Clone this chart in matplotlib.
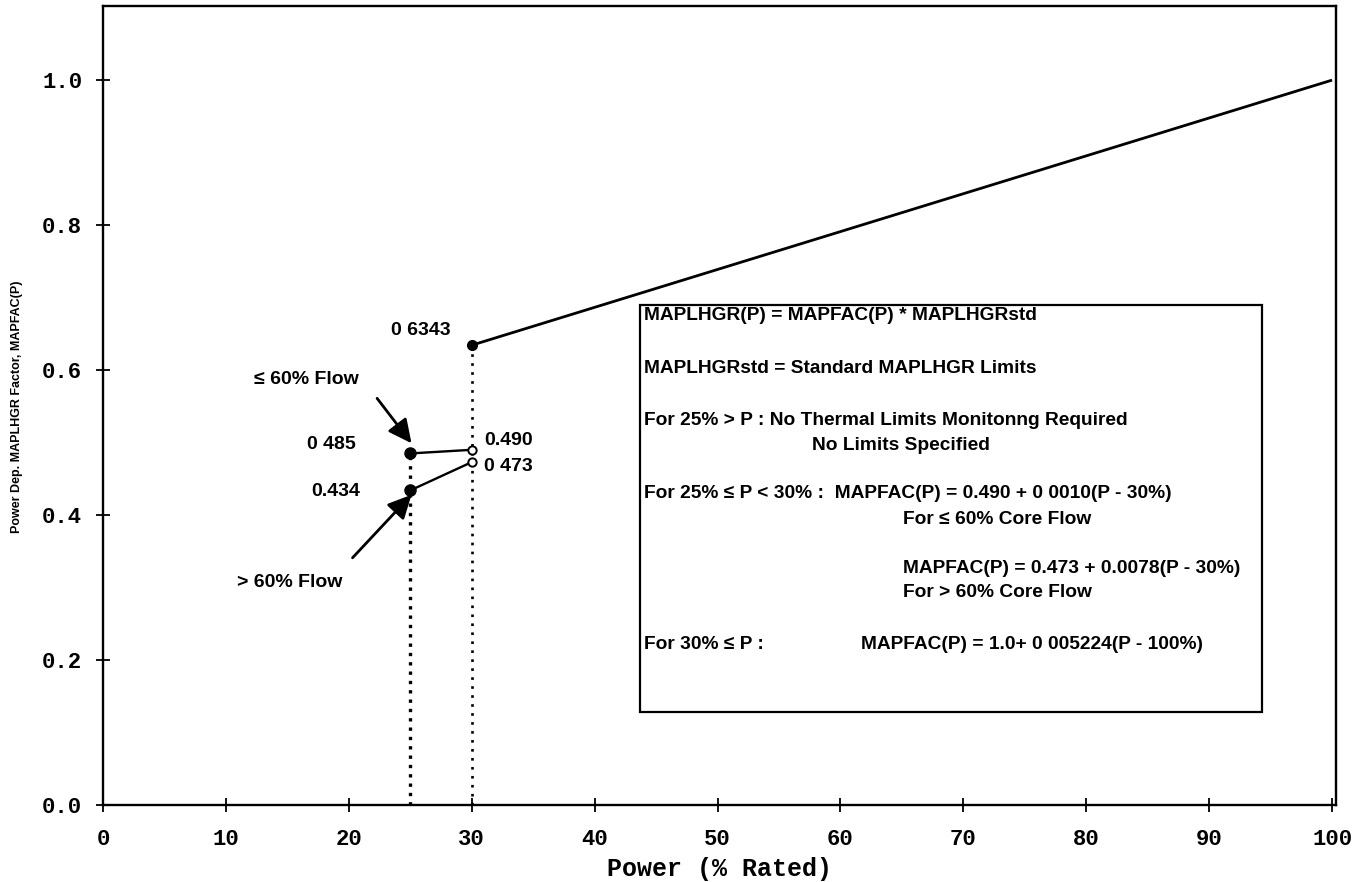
import matplotlib
matplotlib.use("Agg")
import matplotlib.pyplot as plt
from matplotlib.patches import Rectangle

# Power-dependent MAPLHGR factor data
full_power_x = [30, 100]
full_power_y = [0.6343, 1.0]

low_flow_x = [25, 30]
low_flow_y = [0.485, 0.490]      # <= 60% core flow
high_flow_x = [25, 30]
high_flow_y = [0.434, 0.473]     # > 60% core flow

x_ticks = [0, 10, 20, 30, 40, 50, 60, 70, 80, 90, 100]
y_ticks = [0.0, 0.2, 0.4, 0.6, 0.8, 1.0]
y_tick_labels = ["0.0", "0.2", "0.4", "0.6", "0.8", "1.0"]

mono = ["Liberation Mono", "DejaVu Sans Mono"]
sans = ["Liberation Sans", "DejaVu Sans"]

fig = plt.figure(figsize=(13.7, 8.82), dpi=100)
ax = fig.add_axes([0.0752, 0.0873, 0.8998, 0.9057])

ax.set_xlim(0, 100.3)
ax.set_ylim(0, 1.102)

# main curve above 30% power
ax.plot(full_power_x, full_power_y, color="black", lw=2.0, solid_capstyle="butt")
ax.plot([full_power_x[0]], [full_power_y[0]], "o", color="black", ms=7)

# dotted guides down to the axis
ax.plot([low_flow_x[0], low_flow_x[0]], [0, low_flow_y[0]], color="black",
        lw=2.4, linestyle=(0, (1, 1.8)))
ax.plot([full_power_x[0], full_power_x[0]], [0, full_power_y[0]], color="black",
        lw=1.9, linestyle=(0, (1, 2.4)))

# 25-30% segments
for xs, ys in ((low_flow_x, low_flow_y), (high_flow_x, high_flow_y)):
    ax.plot(xs, ys, color="black", lw=1.7)
    ax.plot([xs[0]], [ys[0]], "o", color="black", ms=8, zorder=4)
    ax.plot([xs[1]], [ys[1]], "o", mfc="white", mec="black", mew=1.4, ms=6, zorder=4)

# value labels
lab_kw = dict(fontsize=14, family=sans, fontweight="bold", color="black")
ax.text(28.3, full_power_y[0] + 0.0205, "0 6343", va="center", ha="right", **lab_kw)
ax.text(20.6, low_flow_y[0] + 0.0125, "0 485", va="center", ha="right", **lab_kw)
ax.text(20.9, high_flow_y[0] - 0.001, "0.434", va="center", ha="right", **lab_kw)
ax.text(31.0, low_flow_y[1] + 0.0125, "0.490", va="center", **lab_kw)
ax.text(31.0, high_flow_y[1] - 0.006, "0 473", va="center", **lab_kw)

# flow annotations with arrows
arrow = dict(arrowstyle="-|>,head_length=0.55,head_width=0.27", color="black",
             lw=2.0, mutation_scale=26, shrinkA=0, shrinkB=0)
ax.text(12.3, 0.587, "≤ 60% Flow", va="center", **lab_kw)
ax.annotate("", xy=(25.1, 0.499), xytext=(22.3, 0.561), arrowprops=arrow)
ax.text(10.9, 0.307, "> 60% Flow", va="center", **lab_kw)
ax.annotate("", xy=(25.1, 0.428), xytext=(20.3, 0.341), arrowprops=arrow)

# equations box (axes fraction coordinates)
bx0, bx1 = (640 - 103) / 1233, (1262 - 103) / 1233
by0, by1 = (805 - 712) / 799, (805 - 305) / 799
ax.add_patch(Rectangle((bx0, by0), bx1 - bx0, by1 - by0, transform=ax.transAxes,
                       fill=False, edgecolor="black", lw=1.6, zorder=3))


def px(xp, yp):
    return (xp - 103) / 1233, (805 - yp) / 799


box_lines = [
    (644, 315, "MAPLHGR(P) = MAPFAC(P) * MAPLHGRstd"),
    (644, 368, "MAPLHGRstd = Standard MAPLHGR Limits"),
    (644, 420, "For 25% > P : No Thermal Limits Monitonng Required"),
    (812, 445, "No Limits Specified"),
    (644, 493, "For 25% ≤ P < 30% :  MAPFAC(P) = 0.490 + 0 0010(P - 30%)"),
    (903, 519, "For ≤ 60% Core Flow"),
    (903, 568, "MAPFAC(P) = 0.473 + 0.0078(P - 30%)"),
    (903, 592, "For > 60% Core Flow"),
    (644, 644, "For 30% ≤ P :"),
    (861, 644, "MAPFAC(P) = 1.0+ 0 005224(P - 100%)"),
]
for xp, yp, s in box_lines:
    tx, ty = px(xp, yp)
    ax.text(tx, ty, s, transform=ax.transAxes, va="center", ha="left",
            fontsize=13.8, family=sans, fontweight="bold", color="black")

# axes styling
for sp in ax.spines.values():
    sp.set_linewidth(1.7)
ax.set_xticks(x_ticks)
ax.set_xticklabels([str(v) for v in x_ticks])
ax.set_yticks(y_ticks)
ax.set_yticklabels(y_tick_labels)
ax.tick_params(direction="inout", length=10, width=1.3)
ax.tick_params(axis="x", pad=12)
ax.tick_params(axis="y", pad=10)
for lbl in ax.get_xticklabels() + ax.get_yticklabels():
    lbl.set_fontfamily(mono)
    lbl.set_fontweight("bold")
    lbl.set_fontsize(16)

ax.set_xlabel("Power (% Rated)", family=mono, fontweight="bold", fontsize=18,
              labelpad=5)
fig.text(0.0125, 0.539, "Power Dep. MAPLHGR Factor, MAPFAC(P)", rotation=90,
         ha="center", va="center", family=sans, fontweight="bold", fontsize=9)

fig.savefig("out.png", dpi=100)
